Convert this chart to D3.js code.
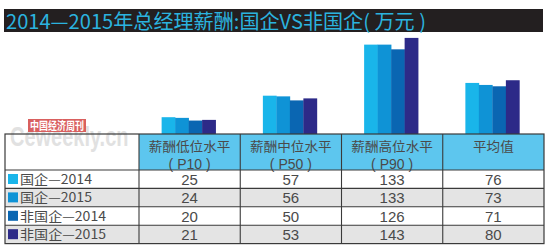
<!DOCTYPE html>
<html><head><meta charset="utf-8">
<script src="https://cdn.jsdelivr.net/npm/d3@7"></script>
<style>html,body{margin:0;padding:0;background:#fff;}svg{display:block;}</style>
</head><body><svg id="c" width="550" height="251"></svg>
<script>
const titleText = "2014—2015年总经理薪酬:国企VS非国企( 万元 )";
const categories = ["P10", "P50", "P90", "AVG"];
const headerLine1 = ["薪酬低位水平", "薪酬中位水平", "薪酬高位水平", "平均值"];
const headerLine2 = ["( P10 )", "( P50 )", "( P90 )", ""];
const seriesNames = ["国企—2014", "国企—2015", "非国企—2014", "非国企—2015"];
const soe2014 = [25, 57, 133, 76];
const soe2015 = [24, 56, 133, 73];
const nsoe2014 = [20, 50, 126, 71];
const nsoe2015 = [21, 53, 143, 80];
const seriesValues = [soe2014, soe2015, nsoe2014, nsoe2015];
const colors = ["#19b5ea", "#0f93d6", "#0a66b2", "#2d2a88"];

const svg = d3.select("#c");

// title bar
svg.append("rect").attr("x", 4).attr("y", 9).attr("width", 539).attr("height", 23).attr("fill", "#231f20");
svg.append("text").attr("x", 6).attr("y", 28.5).text(titleText)
  .attr("font-family", "Noto Sans CJK SC, sans-serif").attr("font-size", 20)
  .attr("fill", "#2bb3df").attr("textLength", 420).attr("lengthAdjust", "spacingAndGlyphs");

// layout
const tableLeft = 5, labelColRight = 139, tableRight = 544;
const tableTop = 134, headerBottom = 170, rowH = 18.4;
const x = d3.scaleBand().domain(categories).range([labelColRight, tableRight]).padding(0);
const y = d3.scaleLinear().domain([0, 150]).range([tableTop, tableTop - 150 * 0.672]);
const xs = d3.scaleBand().domain(d3.range(4)).range([0, 54]);

// watermark
const wm = svg.append("g");
wm.append("g").attr("transform", "translate(10,146) scale(0.74,1)")
  .append("text").attr("x", 0).attr("y", 0).text("Ceweekly.cn")
  .attr("font-family", "Liberation Sans, sans-serif").attr("font-weight", "bold")
  .attr("font-size", 27).attr("fill", "#c4c4c4").attr("opacity", 0.5);
wm.append("rect").attr("x", 28).attr("y", 119).attr("width", 58).attr("height", 13).attr("fill", "#d9605f");
wm.append("text").attr("x", 57).attr("y", 130).attr("text-anchor", "middle").text("中国经济周刊")
  .attr("font-family", "Noto Sans CJK SC, serif").attr("font-weight", "bold")
  .attr("font-size", 11).attr("fill", "#fff").attr("textLength", 54).attr("lengthAdjust", "spacingAndGlyphs");

// bars
categories.forEach((c, ci) => {
  const g = svg.append("g").attr("transform", `translate(${x(c) + x.bandwidth() / 2 - 28},0)`);
  seriesValues.forEach((vals, si) => {
    g.append("rect").attr("x", xs(si)).attr("width", xs.bandwidth() + 0.3)
      .attr("y", y(vals[ci])).attr("height", y(0) - y(vals[ci])).attr("fill", colors[si]);
  });
});

// table backgrounds
svg.append("rect").attr("x", labelColRight).attr("y", tableTop).attr("width", tableRight - labelColRight)
  .attr("height", headerBottom - tableTop).attr("fill", "#5dc6ee");
seriesNames.forEach((n, i) => {
  svg.append("rect").attr("x", tableLeft).attr("y", headerBottom + i * rowH)
    .attr("width", tableRight - tableLeft).attr("height", rowH)
    .attr("fill", i % 2 ? "#e4e4e4" : "#ffffff");
});

// header text
const font = "Noto Sans CJK SC, sans-serif";
categories.forEach((c, ci) => {
  const cx = x(c) + x.bandwidth() / 2;
  svg.append("text").attr("x", cx).attr("y", 150.6).attr("text-anchor", "middle").text(headerLine1[ci])
    .attr("font-family", font).attr("font-size", 13).attr("fill", "#4a4a4a")
    .attr("textLength", headerLine1[ci].length * 13.6).attr("lengthAdjust", "spacingAndGlyphs");
  if (headerLine2[ci]) svg.append("text").attr("x", cx).attr("y", 168.8).attr("text-anchor", "middle").text(headerLine2[ci])
    .attr("font-family", "Liberation Sans, sans-serif").attr("font-size", 14).attr("fill", "#4a4a4a")
    .attr("xml:space", "preserve");
});

// rows
seriesNames.forEach((n, si) => {
  const ty = headerBottom + si * rowH;
  svg.append("rect").attr("x", 8).attr("y", ty + 4).attr("width", 10).attr("height", 10).attr("fill", colors[si]);
  svg.append("text").attr("x", 20).attr("y", ty + 14).text(n)
    .attr("font-family", font).attr("font-size", 12.6).attr("fill", "#4a4a4a")
    .attr("textLength", n.length === 7 ? 72 : 86).attr("lengthAdjust", "spacingAndGlyphs");
  categories.forEach((c, ci) => {
    svg.append("text").attr("x", x(c) + x.bandwidth() / 2).attr("y", ty + 14.8).attr("text-anchor", "middle")
      .text(seriesValues[si][ci]).attr("font-family", "Liberation Sans, sans-serif").attr("font-size", 15).attr("fill", "#4a4a4a");
  });
});

// grid lines
const lc = "#3a3a3a";
const tableBottom = headerBottom + 4 * rowH;
svg.append("rect").attr("x", tableLeft).attr("y", tableTop).attr("width", tableRight - tableLeft)
  .attr("height", tableBottom - tableTop).attr("fill", "none").attr("stroke", lc).attr("stroke-width", 1.2);
for (let i = 0; i < 4; i++) {
  const yy = headerBottom + i * rowH;
  svg.append("line").attr("x1", tableLeft).attr("x2", tableRight).attr("y1", yy).attr("y2", yy)
    .attr("stroke", lc).attr("stroke-width", 1.1);
}
[labelColRight, ...categories.slice(1).map(c => x(c))].forEach(xx => {
  svg.append("line").attr("x1", xx).attr("x2", xx).attr("y1", tableTop).attr("y2", tableBottom)
    .attr("stroke", lc).attr("stroke-width", 1.1);
});
</script></body></html>
